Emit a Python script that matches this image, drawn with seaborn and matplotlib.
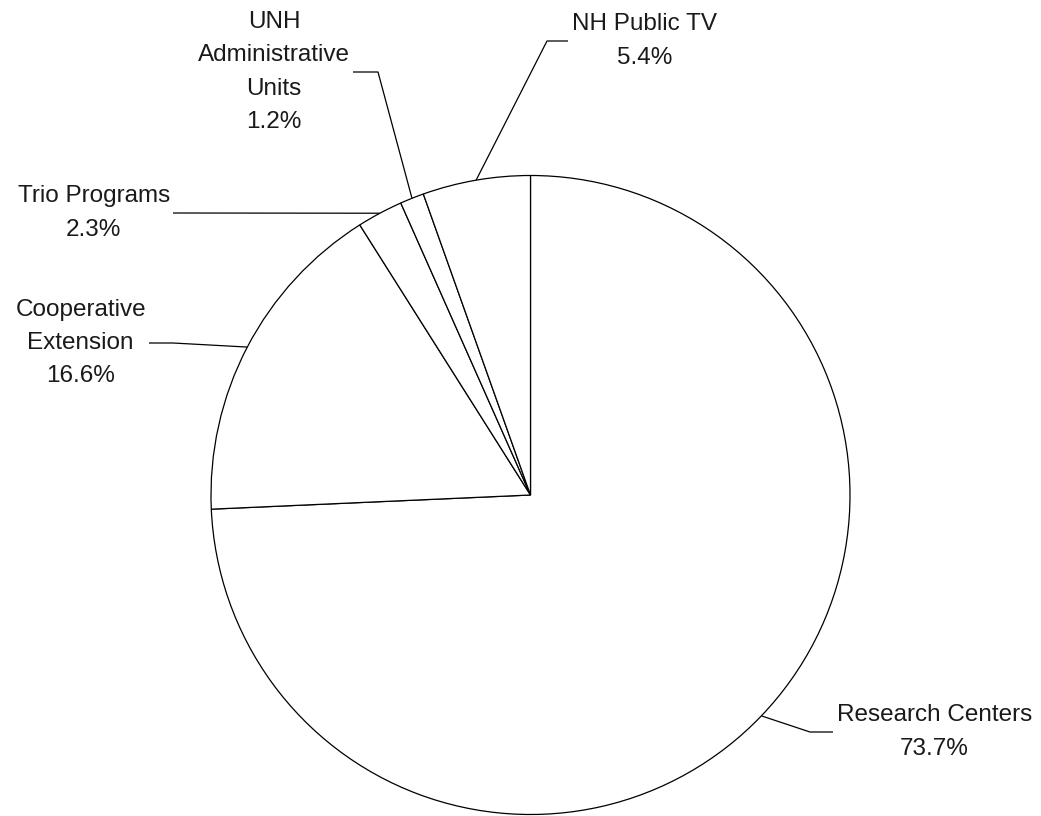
import matplotlib
matplotlib.use("Agg")
import matplotlib.pyplot as plt
import numpy as np
import seaborn as sns

# --- data ---
categories = ["Research Centers", "Cooperative Extension", "Trio Programs",
              "UNH Administrative Units", "NH Public TV"]
shares = [73.7, 16.6, 2.3, 1.2, 5.4]
label_texts = ["Research Centers", "Cooperative\nExtension", "Trio Programs",
               "UNH\nAdministrative\nUnits", "NH Public TV"]

# --- layout (pixel coords, y measured from top) ---
W, H = 1041, 816
center_px = (530.5, 495)
radius_px = 319.5
# elbow x, elbow y, arm end x, text side
label_layout = {
    "Research Centers": (810, 732, 833, "left"),
    "Cooperative Extension": (173, 343, 149, "right"),
    "Trio Programs": (173, 213, 173, "right"),
    "UNH Administrative Units": (378, 72, 353, "right"),
    "NH Public TV": (547, 41, 568, "left"),
}

sns.set_theme(style="white")
plt.rcParams["font.family"] = ["Liberation Sans", "DejaVu Sans"]

fig = plt.figure(figsize=(W / 100, H / 100), dpi=100)
ax = fig.add_axes([0, 0, 1, 1])

cx, cy = center_px[0], H - center_px[1]
wedges, _ = ax.pie(shares, startangle=90, counterclock=False,
                   center=(cx, cy), radius=radius_px,
                   wedgeprops=dict(facecolor="white", edgecolor="black", linewidth=0.9))

# leader lines start at the middle of each slice's arc
for w, cat, txt, val in zip(wedges, categories, label_texts, shares):
    mid = np.deg2rad((w.theta1 + w.theta2) / 2)
    ex, ey = cx + radius_px * np.cos(mid), cy + radius_px * np.sin(mid)
    bx, by, ax_end, side = label_layout[cat]
    by = H - by
    ax.plot([ex, bx, ax_end], [ey, by, by], color="black", lw=0.9,
            solid_capstyle="butt")
    tx = ax_end + 4 if side == "left" else ax_end - 3
    ax.text(tx, by, f"{txt}\n{val}%", ha=side, va="center",
            multialignment="center", fontsize=17.5, linespacing=1.65,
            color="#1a1a1a")

ax.set_xlim(0, W)
ax.set_ylim(0, H)
ax.set_aspect("equal")
ax.axis("off")

fig.savefig("out.png", dpi=100, facecolor="white")
